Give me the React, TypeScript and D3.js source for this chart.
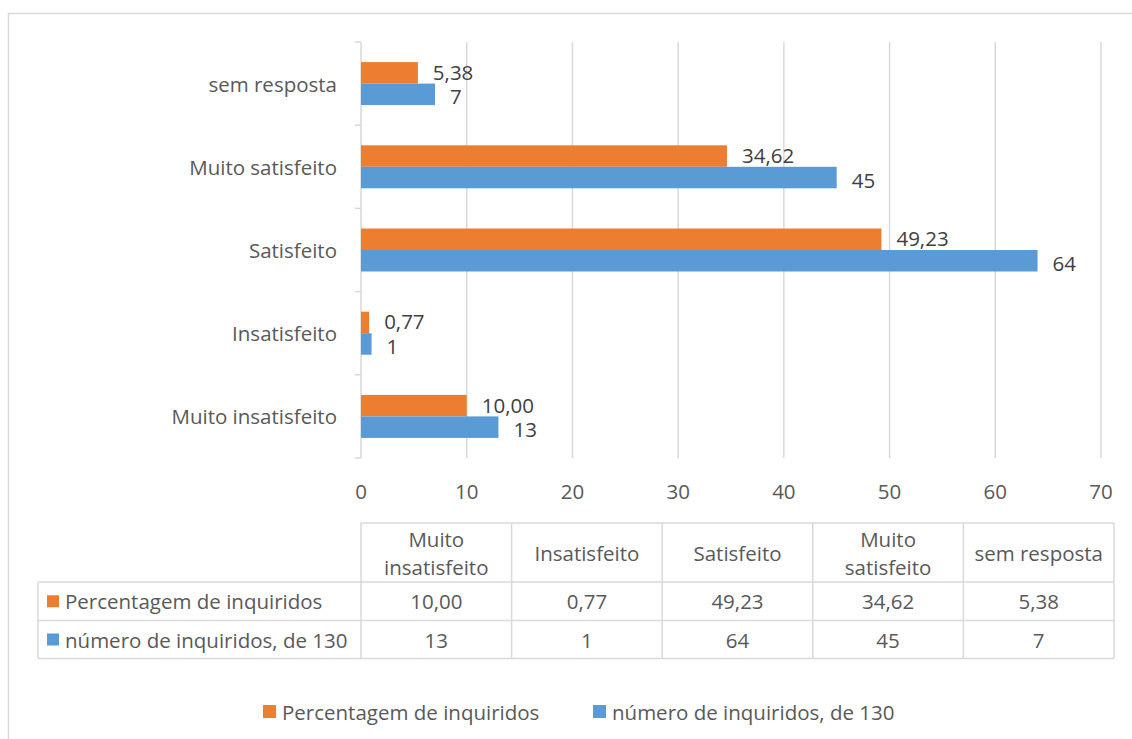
import React from "react";
import * as d3 from "d3";

const categories = ["Muito insatisfeito", "Insatisfeito", "Satisfeito", "Muito satisfeito", "sem resposta"];
const headerLines = [["Muito", "insatisfeito"], ["Insatisfeito"], ["Satisfeito"], ["Muito", "satisfeito"], ["sem resposta"]];
const percentValues = [10.0, 0.77, 49.23, 34.62, 5.38];
const countValues = [13, 1, 64, 45, 7];
const seriesNames = ["Percentagem de inquiridos", "número de inquiridos, de 130"];
const seriesColors = ["#ED7D31", "#5B9BD5"];
const xTicks = [0, 10, 20, 30, 40, 50, 60, 70];

const fmt2 = (v: number) => v.toFixed(2).replace(".", ",");
const fmt0 = (v: number) => String(v);

const FONT = "'Open Sans', sans-serif";
const FS = 20.5;
const GRID = "#d9d9d9";
const TXT = "#595959";
const LBL = "#404040";

export default function App() {
  const x = d3.scaleLinear().domain([0, 70]).range([361, 1101]);
  const yCat = d3.scaleBand<string>().domain([...categories].reverse()).range([42, 458]).padding(0);
  const ySub = d3
    .scaleBand<string>()
    .domain(["pct", "num"])
    .range([0, yCat.step()])
    .paddingInner(0)
    .paddingOuter(0.935);
  const tableX = d3.scaleBand<string>().domain(categories).range([361, 1114]);

  const series = [
    { key: "pct", values: percentValues, fmt: fmt2, color: seriesColors[0], name: seriesNames[0], dy: -1 },
    { key: "num", values: countValues, fmt: fmt0, color: seriesColors[1], name: seriesNames[1], dy: 2 },
  ];

  const [yTop, yBot] = yCat.range();
  const boundaries = [...yCat.domain().map((c) => yCat(c)!), yBot];

  const tHeadTop = 523;
  const tRow1 = 582;
  const tRow2 = 620.5;
  const tBottom = 658.5;
  const tLeft = 38;
  const tRight = tableX.range()[1];

  return (
    <svg
      width={1132}
      height={739}
      style={{ position: "absolute", left: 0, top: 0, background: "#fff" }}
      fontFamily={FONT}
    >
      <rect x={8.5} y={13.5} width={1140} height={740} fill="#fff" stroke={GRID} strokeWidth={1.5} />

      {/* gridlines */}
      {xTicks.slice(1).map((t) => (
        <line key={t} x1={x(t)} x2={x(t)} y1={yTop} y2={yBot} stroke={GRID} strokeWidth={1.5} />
      ))}
      {/* y axis */}
      <line x1={x(0)} x2={x(0)} y1={yTop} y2={yBot} stroke={GRID} strokeWidth={1.5} />
      {boundaries.map((b, i) => (
        <line key={i} x1={x(0) - 6} x2={x(0)} y1={b} y2={b} stroke={GRID} strokeWidth={1.5} />
      ))}

      {/* category labels */}
      {categories.map((c) => (
        <text
          key={c}
          x={337}
          y={yCat(c)! + yCat.bandwidth() / 2}
          textAnchor="end"
          dominantBaseline="central"
          fontSize={FS}
          fill={TXT}
        >
          {c}
        </text>
      ))}

      {/* bars */}
      {series.map((s) =>
        categories.map((c, i) => {
          const y0 = yCat(c)! + ySub(s.key)!;
          const h = ySub.bandwidth();
          return (
            <g key={s.key + c}>
              <rect x={x(0)} y={y0} width={x(s.values[i]) - x(0)} height={h} fill={s.color} />
              <text
                x={x(s.values[i]) + 15}
                y={y0 + h / 2 + s.dy}
                dominantBaseline="central"
                fontSize={FS}
                fill={LBL}
              >
                {s.fmt(s.values[i])}
              </text>
            </g>
          );
        })
      )}

      {/* x tick labels */}
      {xTicks.map((t) => (
        <text key={t} x={x(t)} y={491} textAnchor="middle" dominantBaseline="central" fontSize={FS} fill={TXT}>
          {t}
        </text>
      ))}

      {/* data table */}
      <g stroke={GRID} strokeWidth={1.5} fill="none">
        <line x1={x(0)} x2={tRight} y1={tHeadTop} y2={tHeadTop} />
        <line x1={tLeft} x2={tRight} y1={tRow1} y2={tRow1} />
        <line x1={tLeft} x2={tRight} y1={tRow2} y2={tRow2} />
        <line x1={tLeft} x2={tRight} y1={tBottom} y2={tBottom} />
        <line x1={tLeft} x2={tLeft} y1={tRow1} y2={tBottom} />
        {categories.map((c) => (
          <line key={c} x1={tableX(c)!} x2={tableX(c)!} y1={tHeadTop} y2={tBottom} />
        ))}
        <line x1={tRight} x2={tRight} y1={tHeadTop} y2={tBottom} />
      </g>
      {categories.map((c, i) => {
        const cx = tableX(c)! + tableX.bandwidth() / 2;
        const lines = headerLines[i];
        const mid = (tHeadTop + tRow1) / 2;
        const lh = 28;
        return (
          <g key={c}>
            {lines.map((ln, j) => (
              <text
                key={j}
                x={cx}
                y={mid + (j - (lines.length - 1) / 2) * lh}
                textAnchor="middle"
                dominantBaseline="central"
                fontSize={FS}
                fill={TXT}
              >
                {ln}
              </text>
            ))}
            <text x={cx} y={(tRow1 + tRow2) / 2} textAnchor="middle" dominantBaseline="central" fontSize={FS} fill={TXT}>
              {fmt2(percentValues[i])}
            </text>
            <text x={cx} y={(tRow2 + tBottom) / 2} textAnchor="middle" dominantBaseline="central" fontSize={FS} fill={TXT}>
              {fmt0(countValues[i])}
            </text>
          </g>
        );
      })}
      {series.map((s, k) => {
        const r0 = k === 0 ? tRow1 : tRow2;
        const r1 = k === 0 ? tRow2 : tBottom;
        const cy = (r0 + r1) / 2;
        return (
          <g key={s.key}>
            <rect x={47} y={cy - 6} width={12} height={12} fill={s.color} />
            <text x={65} y={cy} dominantBaseline="central" fontSize={FS} fill={TXT}>
              {s.name}
            </text>
          </g>
        );
      })}

      {/* legend */}
      {series.map((s, k) => {
        const lx = k === 0 ? 263 : 593;
        return (
          <g key={s.key}>
            <rect x={lx} y={705} width={13} height={13} fill={s.color} />
            <text x={lx + 19} y={712} dominantBaseline="central" fontSize={FS} fill={TXT}>
              {s.name}
            </text>
          </g>
        );
      })}
    </svg>
  );
}
